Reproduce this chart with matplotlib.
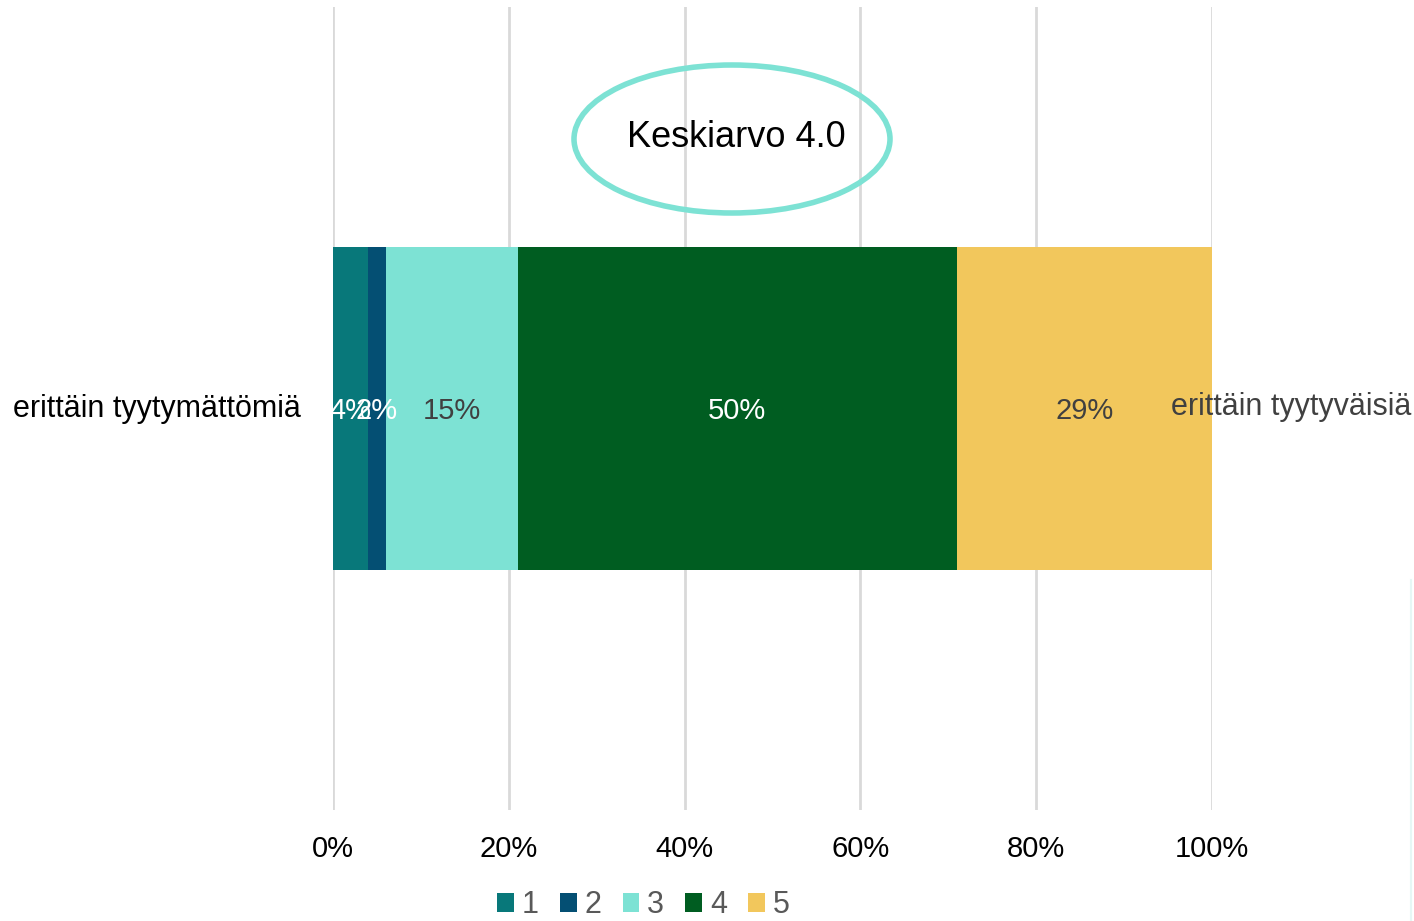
import matplotlib.pyplot as plt
from matplotlib.patches import Ellipse
from matplotlib.lines import Line2D

# Datos
categories = ["1", "2", "3", "4", "5"]
values = [4, 2, 15, 50, 29]
colors = ["#08787A", "#044F73", "#7DE2D4", "#005D21", "#F2C75C"]
label_colors = ["white", "white", "#404040", "white", "#404040"]
ticks = [0, 20, 40, 60, 80, 100]
tick_labels = ["0%", "20%", "40%", "60%", "80%", "100%"]

plt.rcParams["font.family"] = ["Liberation Sans", "DejaVu Sans"]

fig = plt.figure(figsize=(14.14, 9.21), dpi=100)
ax = fig.add_axes([333 / 1414, 1 - 810 / 921, (1212 - 333) / 1414, 803 / 921])

left = 0
for cat, v, c, lc in zip(categories, values, colors, label_colors):
    ax.barh(0, v, left=left, height=0.802, color=c, label=cat, zorder=2)
    ax.text(left + v / 2, -0.005, f"{v}%", ha="center", va="center",
            color=lc, fontsize=21, zorder=3)
    left += v

ax.set_xlim(0, 100)
ax.set_ylim(-1, 1)
ax.set_xticks(ticks)
ax.set_xticklabels(tick_labels, fontsize=21, color="black")
ax.set_yticks([])
ax.tick_params(axis="x", length=0, pad=18)
ax.grid(axis="x", color="#D9D9D9", linewidth=2, zorder=0)
for s in ax.spines.values():
    s.set_visible(False)

# Tekstit sivuilla
fig.text(13 / 1414, 1 - 409 / 921, "erittäin tyytymättömiä", fontsize=22,
         color="black", ha="left", va="center")
fig.text(1411 / 1414, 1 - 407 / 921, "erittäin tyytyväisiä", fontsize=22,
         color="#404040", ha="right", va="center", zorder=5)

# Keskiarvo-ellipsi
ell = Ellipse((732 / 1414, 1 - 139 / 921), 316 / 1414, 148 / 921,
              transform=fig.transFigure, fill=False, edgecolor="#7DE2D4",
              linewidth=4)
fig.add_artist(ell)
fig.text(736 / 1414, 1 - 137 / 921, "Keskiarvo 4.0", fontsize=26,
         color="black", ha="center", va="center")

fig.add_artist(Line2D([1411 / 1414, 1411 / 1414], [0, 1 - 580 / 921],
                      transform=fig.transFigure, color="#E6F7F5", linewidth=1.5))

fig.legend(loc="center", bbox_to_anchor=(0.455, 0.017), ncol=5, frameon=False,
           fontsize=22, labelcolor="#595959", handlelength=0.55, handleheight=0.55,
           handletextpad=0.25, columnspacing=0.7)

plt.savefig("out.png")
